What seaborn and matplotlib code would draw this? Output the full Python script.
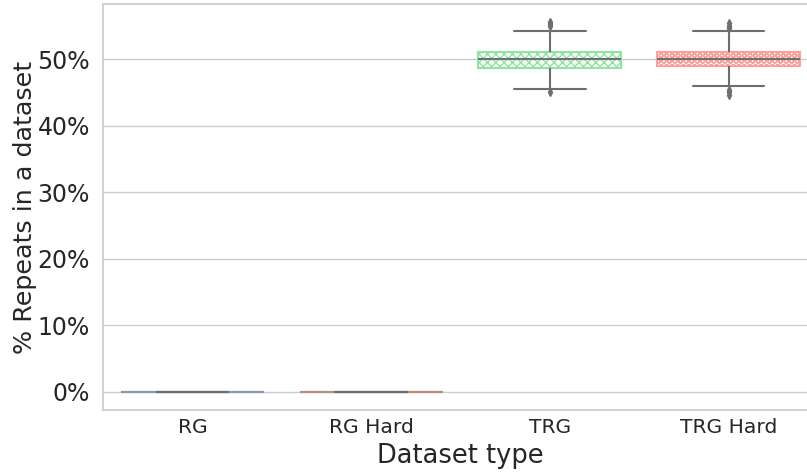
import matplotlib
matplotlib.use("Agg")
import matplotlib.pyplot as plt
import seaborn as sns
import pandas as pd
import numpy as np
from matplotlib.ticker import PercentFormatter

categories = ["RG", "RG Hard", "TRG", "TRG Hard"]
rg = [0.0] * 21
rg_hard = [0.0] * 21
trg = [45.0, 45.5, 46.8, 47.9, 48.4, 48.7, 49.1, 49.4, 49.7, 49.9, 50.05,
       50.3, 50.5, 50.7, 50.9, 51.05, 51.8, 54.2, 54.9, 55.2, 55.5]
trg_hard = [44.6, 45.0, 45.4, 45.9, 47.8, 48.9, 49.2, 49.5, 49.7, 49.9, 50.05,
            50.3, 50.5, 50.7, 50.9, 51.05, 51.6, 54.2, 54.6, 55.0, 55.4]
hatches = ["//", "\\\\", "xxxx", "OOO"]

values = [rg, rg_hard, trg, trg_hard]
df = pd.DataFrame({
    "Dataset type": [c for c, v in zip(categories, values) for _ in v],
    "value": [x for v in values for x in v],
})

sns.set_theme(style="whitegrid")
fig = plt.figure(figsize=(8.07, 4.72), dpi=100)
ax = fig.add_axes([103 / 807, 1 - 410 / 472, 715 / 807, 406 / 472])
pal = sns.color_palette("pastel", 4)
sns.boxplot(data=df, x="Dataset type", y="value", hue="Dataset type",
            order=categories, palette=pal, legend=False, ax=ax,
            linecolor="0.43", linewidth=1.5, width=0.8,
            flierprops=dict(marker="d", markersize=4, markerfacecolor="0.43",
                            markeredgecolor="0.43"))

gray = np.array([0.43, 0.43, 0.43])
for i, (patch, col, h) in enumerate(zip(ax.patches, pal, hatches)):
    edge = col if i >= 2 else tuple(0.5 * np.array(col) + 0.5 * gray)
    patch.set_facecolor("white")
    patch.set_edgecolor(edge)
    patch.set_hatch(h)
    patch.set_linewidth(1.5)
    try:
        patch.set_hatchcolor(col)
    except Exception:
        pass

# medians of zero-height boxes sit beneath the box edge
for ln in ax.lines:
    xd = np.asarray(ln.get_xdata(), dtype=float)
    yd = np.asarray(ln.get_ydata(), dtype=float)
    if len(xd) == 2 and yd[0] == yd[1] and abs(xd[1] - xd[0]) > 0.6 and yd[0] == 0:
        ln.set_zorder(0.5)

ax.yaxis.set_major_formatter(PercentFormatter(100, decimals=0))
ax.set_ylabel("% Repeats in a dataset", fontsize=18.3)
ax.set_xlabel("Dataset type", fontsize=18.5)
ax.tick_params(axis="y", labelsize=17)
xpad = ax.xaxis.get_major_ticks()[0].get_pad()
ax.tick_params(axis="x", labelsize=14.6, pad=xpad - 3.6)
ax.yaxis.set_label_coords((37 - 103) / 715, 0.5)
ax.grid(axis="x", visible=False)
fig.savefig("out.png", dpi=100)
